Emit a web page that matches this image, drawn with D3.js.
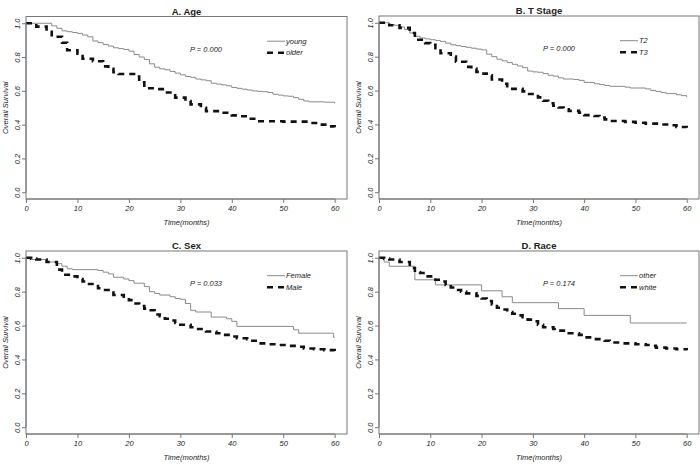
<!DOCTYPE html>
<html>
<head>
<meta charset="utf-8">
<script src="https://cdn.jsdelivr.net/npm/d3@7"></script>
<style>
body { margin: 0; background: #fff; }
text { font-family: "Liberation Sans", Arial, sans-serif; fill: #222; }
</style>
</head>
<body>
<script>
// Kaplan-Meier curves (time in months, survival)
const xTicks = [0, 10, 20, 30, 40, 50, 60]
const yTicks = [0.0, 0.2, 0.4, 0.6, 0.8, 1.0]

const youngTime = [0, 5, 6, 7, 8, 9, 10, 11, 12, 13, 14, 15, 16, 17, 18, 19, 20, 21, 22, 23, 24, 25, 26, 27, 28, 29, 30, 31, 32, 33, 34, 35, 36, 37, 38, 39, 40, 41, 42, 43, 44, 45, 46, 47, 48, 49, 50, 51, 52, 53, 54, 55, 58, 60]
const youngSurv = [1.0, 0.985, 0.97, 0.955, 0.95, 0.945, 0.94, 0.93, 0.92, 0.895, 0.885, 0.875, 0.865, 0.855, 0.85, 0.845, 0.835, 0.815, 0.80, 0.785, 0.76, 0.74, 0.73, 0.725, 0.715, 0.705, 0.695, 0.685, 0.68, 0.67, 0.665, 0.66, 0.645, 0.64, 0.635, 0.63, 0.62, 0.615, 0.61, 0.605, 0.60, 0.597, 0.595, 0.59, 0.58, 0.575, 0.57, 0.568, 0.56, 0.55, 0.54, 0.535, 0.533, 0.525]
const olderTime = [0, 2, 4, 5, 7, 8, 10, 11, 13, 15, 16, 17, 18, 21, 22, 23, 25, 27, 29, 31, 32, 34, 35, 38, 40, 41, 43, 45, 50, 55, 57, 59, 60]
const olderSurv = [1.0, 0.98, 0.95, 0.92, 0.885, 0.84, 0.82, 0.79, 0.775, 0.745, 0.73, 0.71, 0.70, 0.685, 0.65, 0.615, 0.61, 0.59, 0.56, 0.54, 0.52, 0.50, 0.48, 0.47, 0.455, 0.45, 0.435, 0.42, 0.418, 0.41, 0.40, 0.39, 0.385]

const t2Time = [0, 2, 3, 4, 5, 6, 7, 8, 9, 10, 11, 12, 13, 14, 15, 16, 17, 18, 19, 20, 21, 22, 23, 24, 25, 26, 27, 28, 29, 30, 31, 32, 33, 34, 35, 36, 38, 39, 40, 42, 43, 44, 45, 48, 49, 52, 53, 54, 55, 56, 58, 59, 60]
const t2Surv = [1.0, 0.99, 0.985, 0.975, 0.96, 0.94, 0.92, 0.91, 0.905, 0.90, 0.895, 0.89, 0.88, 0.87, 0.865, 0.86, 0.855, 0.85, 0.845, 0.84, 0.815, 0.80, 0.785, 0.775, 0.765, 0.755, 0.745, 0.735, 0.715, 0.71, 0.708, 0.70, 0.69, 0.685, 0.675, 0.668, 0.665, 0.66, 0.648, 0.64, 0.635, 0.63, 0.625, 0.62, 0.615, 0.61, 0.60, 0.595, 0.588, 0.582, 0.575, 0.57, 0.562]
const t3Time = [0, 2, 4, 6, 7, 9, 10, 11, 12, 14, 15, 17, 18, 19, 20, 21, 22, 24, 25, 26, 28, 29, 31, 32, 33, 34, 35, 36, 37, 39, 40, 42, 43, 44, 45, 48, 50, 52, 55, 57, 58, 60]
const t3Surv = [1.0, 0.985, 0.97, 0.94, 0.90, 0.88, 0.87, 0.85, 0.82, 0.80, 0.77, 0.74, 0.73, 0.71, 0.70, 0.69, 0.665, 0.64, 0.625, 0.61, 0.595, 0.58, 0.56, 0.54, 0.525, 0.51, 0.50, 0.49, 0.48, 0.47, 0.455, 0.45, 0.44, 0.43, 0.42, 0.415, 0.41, 0.405, 0.40, 0.395, 0.385, 0.38]

const femaleTime = [0, 1, 4, 6, 7, 8, 9, 14, 15, 16, 17, 19, 20, 21, 23, 24, 25, 26, 28, 29, 30, 31, 32, 33, 36, 39, 40, 41, 52, 53, 59.8, 60]
const femaleSurv = [1.0, 0.99, 0.975, 0.965, 0.95, 0.935, 0.93, 0.925, 0.915, 0.905, 0.885, 0.875, 0.865, 0.85, 0.83, 0.80, 0.79, 0.78, 0.77, 0.76, 0.755, 0.73, 0.69, 0.68, 0.65, 0.64, 0.625, 0.595, 0.575, 0.555, 0.53, 0.53]
const maleTime = [0, 1, 2, 4, 6, 7, 9, 10, 11, 12, 14, 15, 17, 19, 20, 21, 22, 23, 24, 25, 26, 27, 28, 29, 30, 32, 33, 35, 37, 38, 40, 41, 43, 44, 45, 47, 49, 51, 53, 54, 56, 58, 60]
const maleSurv = [1.0, 0.995, 0.99, 0.975, 0.93, 0.90, 0.89, 0.875, 0.86, 0.845, 0.82, 0.81, 0.78, 0.77, 0.75, 0.73, 0.715, 0.70, 0.69, 0.665, 0.655, 0.64, 0.63, 0.615, 0.605, 0.59, 0.58, 0.565, 0.555, 0.545, 0.535, 0.525, 0.52, 0.51, 0.495, 0.49, 0.485, 0.48, 0.475, 0.465, 0.46, 0.455, 0.45]

const otherTime = [0, 1, 2, 7, 11, 20, 24, 26, 35, 40, 49, 60]
const otherSurv = [1.0, 0.975, 0.95, 0.87, 0.84, 0.805, 0.77, 0.735, 0.70, 0.66, 0.615, 0.615]
const whiteTime = [0, 1, 2, 4, 6, 7, 8, 9, 11, 12, 13, 14, 15, 16, 17, 19, 20, 21, 22, 23, 24, 25, 26, 27, 28, 29, 30, 31, 32, 34, 35, 37, 39, 40, 42, 44, 45, 47, 50, 52, 53, 54, 56, 58, 60]
const whiteSurv = [1.0, 0.995, 0.99, 0.975, 0.94, 0.915, 0.91, 0.89, 0.87, 0.86, 0.84, 0.825, 0.81, 0.80, 0.79, 0.775, 0.76, 0.745, 0.725, 0.705, 0.695, 0.68, 0.67, 0.66, 0.65, 0.635, 0.625, 0.605, 0.59, 0.58, 0.57, 0.555, 0.545, 0.53, 0.52, 0.51, 0.50, 0.495, 0.49, 0.485, 0.48, 0.47, 0.465, 0.46, 0.455]

const titles = ["A. Age", "B. T Stage", "C. Sex", "D. Race"]
const pValues = ["P = 0.000", "P = 0.000", "P = 0.033", "P = 0.174"]
const solidNames = ["young", "T2", "Female", "other"]
const dashNames = ["older", "T3", "Male", "white"]
const solidSeries = [[youngTime, youngSurv], [t2Time, t2Surv], [femaleTime, femaleSurv], [otherTime, otherSurv]]
const dashSeries = [[olderTime, olderSurv], [t3Time, t3Surv], [maleTime, maleSurv], [whiteTime, whiteSurv]]

// plot boxes
const boxes = [
    {left: 26, right: 347, top: 16.5, bottom: 199},
    {left: 379, right: 699, top: 16, bottom: 199},
    {left: 26, right: 347, top: 251, bottom: 434},
    {left: 379, right: 699, top: 251, bottom: 434}
]

let svg = d3.select("body").append("svg")
    .attr("width", 700)
    .attr("height", 474)

const toPoints = (s) => s[0].map((t, i) => [t, s[1][i]])

boxes.forEach(function(b, k) {
    // survival x axis: starts at 0, right side padded by 4%
    let x = d3.scaleLinear().domain([0, 62.4]).range([b.left, b.right])
    let y = d3.scaleLinear().domain([-0.04, 1.04]).range([b.bottom, b.top])
    let g = svg.append("g")

    let line = d3.line()
        .x(d => x(d[0]))
        .y(d => y(d[1]))
        .curve(d3.curveStepAfter)

    g.append("path")
        .datum(toPoints(solidSeries[k]))
        .attr("d", line)
        .attr("fill", "none")
        .attr("stroke", "#8a8a8a")
        .attr("stroke-width", 1)

    g.append("path")
        .datum(toPoints(dashSeries[k]))
        .attr("d", line)
        .attr("fill", "none")
        .attr("stroke", "#111")
        .attr("stroke-width", 2.6)
        .attr("stroke-dasharray", "6,5")

    // box
    g.append("rect")
        .attr("x", b.left).attr("y", b.top)
        .attr("width", b.right - b.left).attr("height", b.bottom - b.top)
        .attr("fill", "none")
        .attr("stroke", "#777")
        .attr("stroke-width", 1)

    // x axis
    let xa = g.append("g")
        .attr("transform", "translate(0," + b.bottom + ")")
        .call(d3.axisBottom(x).tickValues(xTicks).tickSize(4).tickSizeOuter(0).tickPadding(3))
    xa.select(".domain").attr("stroke", "#777").attr("d", "M" + x(0) + ",0H" + x(60))
    xa.selectAll("line").attr("stroke", "#777")
    xa.selectAll("text")
        .style("font-family", "Liberation Sans, Arial, sans-serif")
        .style("font-style", "italic")
        .style("font-size", "7.5px")
        .attr("fill", "#222")

    // y axis
    let ya = g.append("g")
        .attr("transform", "translate(" + b.left + ",0)")
        .call(d3.axisLeft(y).tickValues(yTicks).tickFormat(d3.format(".1f")).tickSize(4).tickSizeOuter(0))
    ya.select(".domain").attr("stroke", "#777").attr("d", "M0," + y(0) + "V" + y(1))
    ya.selectAll("line").attr("stroke", "#777")
    ya.selectAll(".tick text")
        .attr("x", null).attr("dy", null)
        .attr("transform", "translate(-6.5,0) rotate(-90)")
        .attr("text-anchor", "middle")
        .style("font-family", "Liberation Sans, Arial, sans-serif")
        .style("font-style", "italic")
        .style("font-size", "7.5px")
        .attr("fill", "#222")

    // titles and labels
    g.append("text")
        .attr("x", (b.left + b.right) / 2).attr("y", b.top - 2)
        .attr("text-anchor", "middle")
        .style("font-weight", "bold").style("font-size", "9.5px")
        .text(titles[k])

    g.append("text")
        .attr("x", (b.left + b.right) / 2).attr("y", b.bottom + 26)
        .attr("text-anchor", "middle")
        .style("font-style", "italic").style("font-size", "7.5px")
        .text("Time(months)")

    g.append("text")
        .attr("transform", "translate(" + (b.left - 18.5) + "," + ((b.top + b.bottom) / 2) + ") rotate(-90)")
        .attr("text-anchor", "middle")
        .style("font-style", "italic").style("font-size", "7.5px")
        .text("Overall Survival")

    g.append("text")
        .attr("x", b.left + 180).attr("y", b.top + 35)
        .attr("text-anchor", "middle")
        .style("font-style", "italic").style("font-size", "7.5px")
        .text(pValues[k])

    // legend
    let lx = b.left + 241, ly = b.top + 24.7
    g.append("line")
        .attr("x1", lx).attr("x2", lx + 18).attr("y1", ly).attr("y2", ly)
        .attr("stroke", "#8a8a8a").attr("stroke-width", 1)
    g.append("line")
        .attr("x1", lx).attr("x2", lx + 18).attr("y1", ly + 11.5).attr("y2", ly + 11.5)
        .attr("stroke", "#111").attr("stroke-width", 2.6).attr("stroke-dasharray", "6,5")
    g.append("text")
        .attr("x", lx + 19).attr("y", ly + 2.7)
        .style("font-style", "italic").style("font-size", "7.5px")
        .text(solidNames[k])
    g.append("text")
        .attr("x", lx + 19).attr("y", ly + 14.2)
        .style("font-style", "italic").style("font-size", "7.5px")
        .text(dashNames[k])
})
</script>
</body>
</html>
